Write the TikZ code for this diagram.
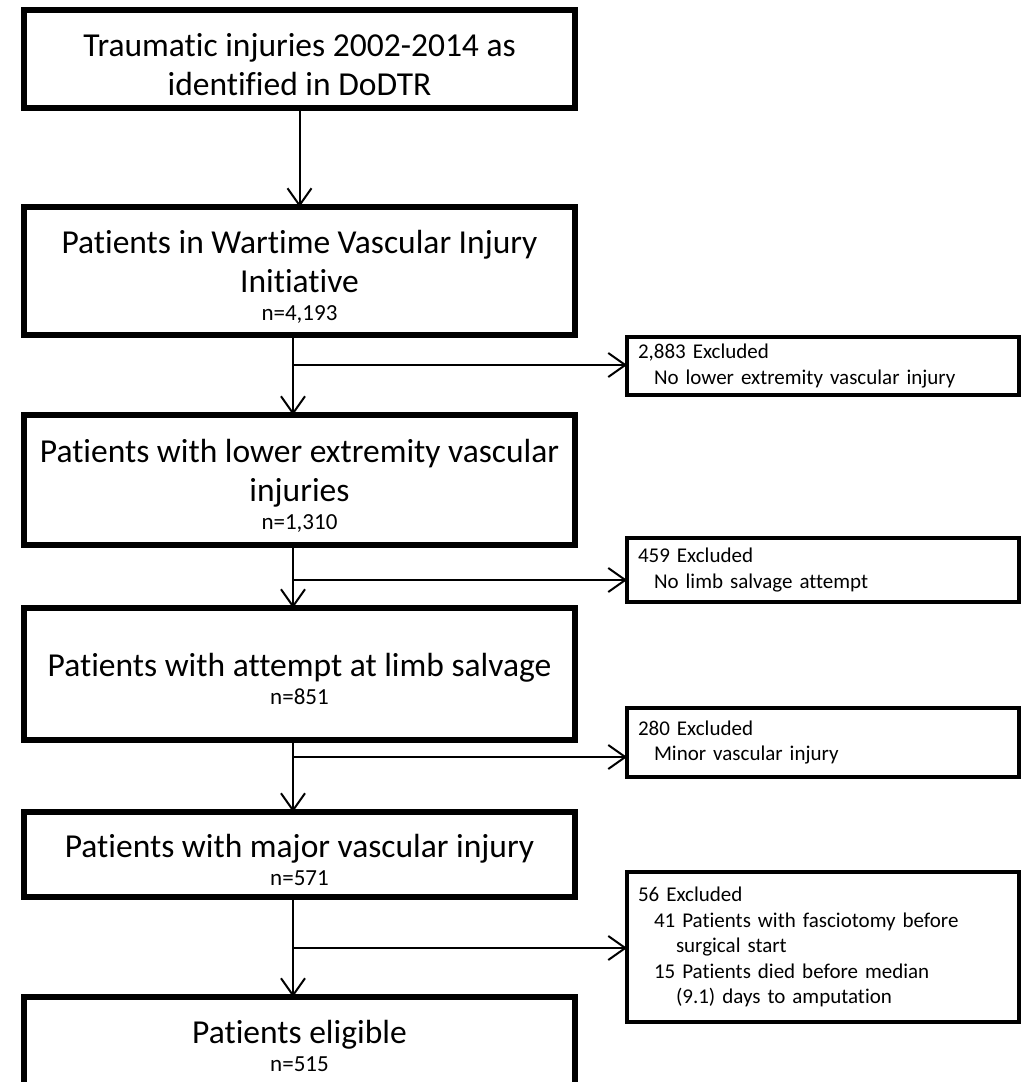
\documentclass[tikz,border=0pt]{standalone}
\usepackage{fontspec}
\setmainfont{Carlito}[Ligatures=NoCommon]
\usetikzlibrary{positioning,arrows.meta}

\tikzset{
  mainbox/.style={draw, line width=6pt, minimum width=551pt, inner sep=0pt, outer sep=0pt,
    align=center, font=\fontsize{33.5}{39}\selectfont},
  exclbox/.style={draw, line width=3.5pt, text width=370pt, inner xsep=11pt, inner ysep=0pt,
    outer sep=0pt, align=left, font=\fontsize{21}{25.5}\selectfont},
  flow/.style={line width=2pt, -{Straight Barb[length=17pt,width=24pt]}},
}
\newcommand{\nval}[1]{{\fontsize{23}{27}\selectfont #1}}
\newcommand{\topgap}{\rule{0pt}{34pt}}

\begin{document}
\begin{tikzpicture}[x=1pt, y=-1pt]
  \useasboundingbox (0,0) rectangle (1022,1082);
  % main flow
  \node[mainbox, minimum height=98pt] (b1) at (299.5,59) {\topgap Traumatic injuries 2002-2014 as\\identified in DoDTR};
  \node[mainbox, minimum height=128pt, below=99pt of b1] (b2) {\topgap Patients in Wartime Vascular Injury\\Initiative\\[-11pt]\nval{n=4,193}};
  \node[mainbox, minimum height=130pt, below=80pt of b2] (b3) {\topgap Patients with lower extremity vascular\\injuries\\[-11pt]\nval{n=1,310}};
  \node[mainbox, minimum height=132pt, below=63pt of b3] (b4) {\topgap Patients with attempt at limb salvage\\[-11pt]\nval{n=851}};
  \node[mainbox, minimum height=85pt, below=72pt of b4] (b5) {\topgap Patients with major vascular injury\\[-11pt]\nval{n=571}};
  \node[mainbox, minimum height=88pt, below=100pt of b5] (b6) {\topgap Patients eligible\\[-11pt]\nval{n=515}};
  % exclusions
  \node[exclbox, minimum height=58pt] (e1) at (823,366) {2,883 Excluded\\\hspace*{16pt}No lower extremity vascular injury};
  \node[exclbox, minimum height=64pt] (e2) at (823,570) {459 Excluded\\\hspace*{16pt}No limb salvage attempt};
  \node[exclbox, minimum height=69pt] (e3) at (823,742.5) {280 Excluded\\\hspace*{16pt}Minor vascular injury};
  \node[exclbox, minimum height=150pt] (e4) at (823,947) {56 Excluded\\\hspace*{16pt}41 Patients with fasciotomy before\\\hspace*{38pt}surgical start\\\hspace*{16pt}15 Patients died before median\\\hspace*{38pt}(9.1) days to amputation};
  % branch points
  \coordinate (t1) at (293,365);
  \coordinate (t2) at (293,580);
  \coordinate (t3) at (293,757);
  \coordinate (t4) at (293,948);
  % arrows
  \draw[flow] (b1) -- (b2);
  \draw[flow] (b2.south -| t1) -- (b3.north -| t1);
  \draw[flow] (b3.south -| t2) -- (b4.north -| t2);
  \draw[flow] (b4.south -| t3) -- (b5.north -| t3);
  \draw[flow] (b5.south -| t4) -- (b6.north -| t4);
  \draw[flow] (t1) -- (t1 -| e1.west);
  \draw[flow] (t2) -- (t2 -| e2.west);
  \draw[flow] (t3) -- (t3 -| e3.west);
  \draw[flow] (t4) -- (t4 -| e4.west);
\end{tikzpicture}
\end{document}
